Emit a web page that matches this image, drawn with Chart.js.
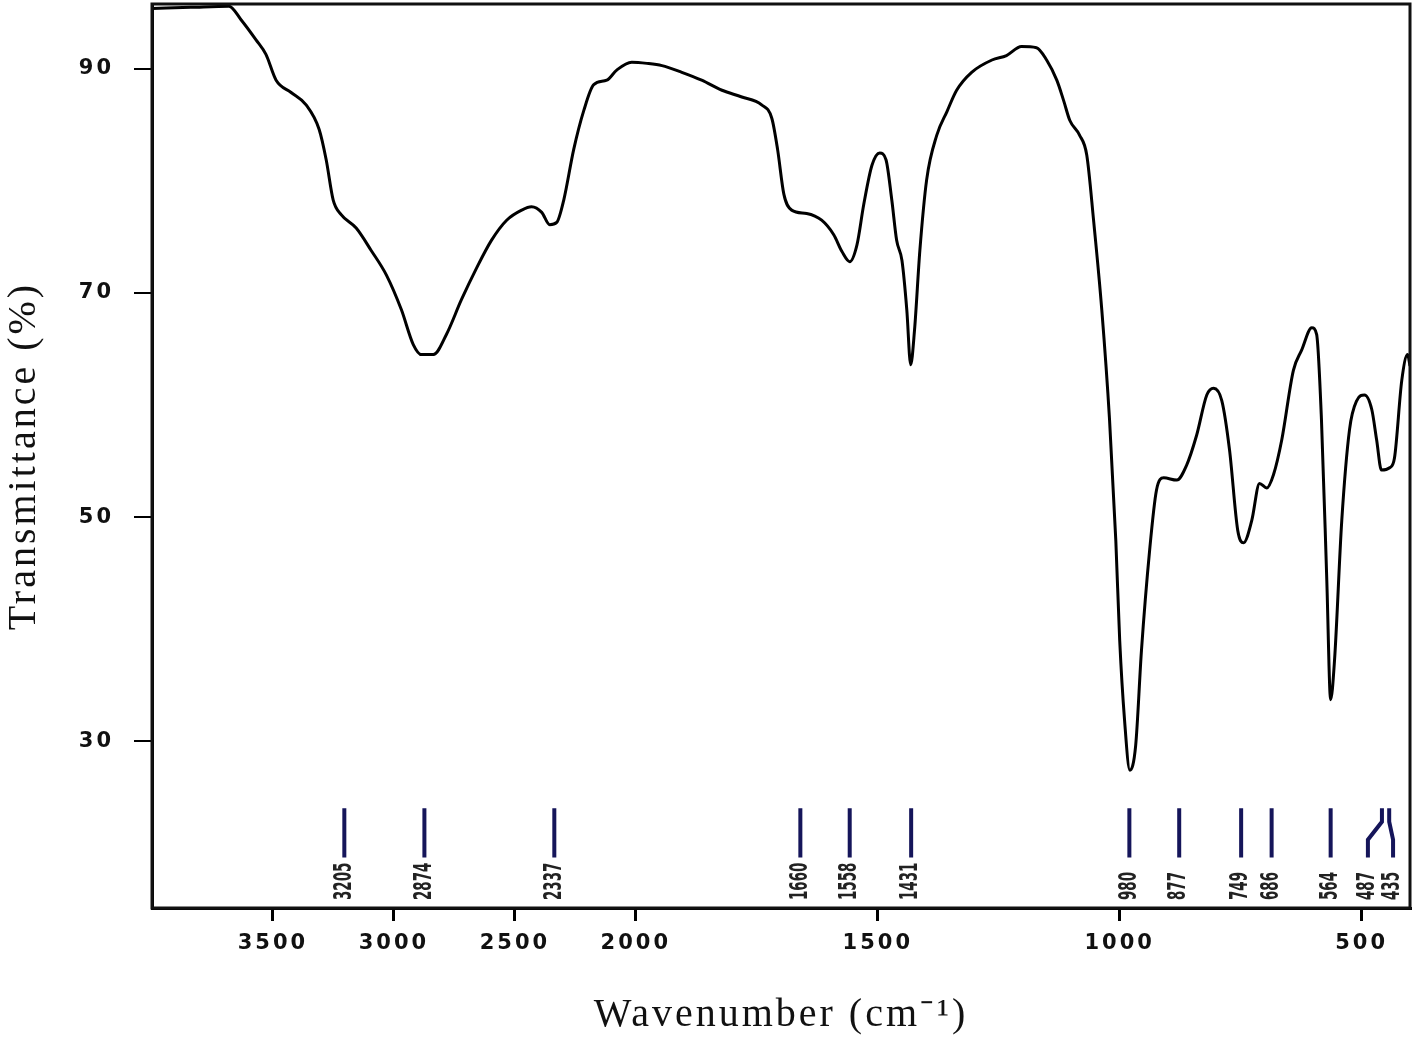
<!DOCTYPE html>
<html>
<head>
<meta charset="utf-8">
<script src="https://cdn.jsdelivr.net/npm/chart.js@4.4.1/dist/chart.umd.min.js"></script>
<style>
html,body{margin:0;padding:0;background:#fff;}
#wrap{position:relative;width:1416px;height:1043px;}
</style>
</head>
<body>
<div id="wrap"><canvas id="c"></canvas></div>
<script>
// ---- Data ----
const WAVENUMBER = [3998,3839,3682,3632,3570,3529,3487,3425,3363,3309,3280,3251,3218,3156,3094,3031,2969,2920,2886,2837,2783,2721,2659,2597,2534,2472,2431,2389,2356,2327,2298,2257,2215,2174,2120,2079,2017,1977,1946,1905,1864,1822,1781,1740,1719,1707,1694,1678,1647,1616,1591,1574,1558,1543,1529,1512,1496,1483,1471,1461,1450,1440,1432,1424,1413,1399,1378,1357,1337,1306,1264,1234,1203,1172,1151,1130,1116,1103,1083,1068,1054,1037,1021,1008,1000,990,979,967,955,938,924,909,882,862,841,820,806,789,773,756,744,727,711,696,682,665,641,624,603,593,583,572,564,556,541,525,510,494,479,469,459,442,432,417,405,400];
const TRANSMITTANCE = [95.4,95.5,95.6,94.4,92.6,91.3,89.0,87.9,86.8,84.6,81.9,78.3,77.0,75.8,73.8,71.6,68.5,65.4,64.5,64.5,66.3,69.4,72.2,74.7,76.5,77.4,77.7,77.2,76.1,76.3,78.3,82.8,86.3,88.6,89.0,89.9,90.6,90.5,90.3,89.7,89.0,88.1,87.5,86.8,85.6,82.8,78.8,77.4,77.1,76.5,75.2,73.7,72.8,74.3,77.9,81.4,82.5,81.9,78.3,74.7,72.9,68.5,63.6,66.7,73.8,80.1,84.1,86.2,88.1,89.7,90.8,91.2,92.0,91.9,90.8,89.0,87.2,85.4,84.1,82.3,76.5,68.5,58.7,47.9,39.0,31.9,27.4,29.6,38.1,47.1,52.4,53.5,53.3,54.6,57.3,60.9,61.5,60.4,56.0,48.8,47.7,49.7,53.0,52.6,53.8,56.9,63.1,64.9,66.9,66.3,58.7,44.4,33.7,37.2,49.7,57.8,60.4,60.9,59.6,56.9,54.2,54.4,55.3,62.2,64.5,63.5];
const PEAK_WN = [3205,2874,2337,1660,1558,1431,980,877,749,686,564,487,435];
const PEAK_LABELS = ["3205","2874","2337","1660","1558","1431","980","877","749","686","564","487","435"];
const LEADER_TOP = {"487":458, "435":443};   // leader lines joining crowded labels
const X_TICKS = [3500,3000,2500,2000,1500,1000,500];
const Y_TICKS = [30,50,70,90];
const X_MIN = 400, X_MAX = 4000, X_BREAK = 2000;
const Y_MIN = 15.1, Y_MAX = 95.8;
const MARK_TOP = 24.0, MARK_BEND1 = 22.8, MARK_BEND2 = 21.2, MARK_BOTTOM = 19.6;

// ---- Split wavenumber scale (scale halves above 2000 cm-1) ----
class SplitScale extends Chart.LinearScale {
  tf(v){ return v <= X_BREAK ? v : X_BREAK + (v - X_BREAK) / 2; }
  itf(t){ return t <= X_BREAK ? t : X_BREAK + (t - X_BREAK) * 2; }
  buildTicks(){ return X_TICKS.map(v => ({value: v})); }
  getPixelForValue(v){
    const a = this.tf(this.min), b = this.tf(this.max);
    return this.getPixelForDecimal((this.tf(v) - a) / (b - a));
  }
  getValueForPixel(p){
    const a = this.tf(this.min), b = this.tf(this.max);
    return this.itf(a + this.getDecimalForPixel(p) * (b - a));
  }
}
SplitScale.id = 'split';
SplitScale.defaults = Chart.LinearScale.defaults;
Chart.register(SplitScale);

const spectrum = WAVENUMBER.map((w, i) => ({x: w, y: TRANSMITTANCE[i]}));

const markerSets = PEAK_WN.map((w, i) => {
  const lbl = PEAK_LABELS[i];
  let pts;
  if (LEADER_TOP[lbl] !== undefined) {
    const t = LEADER_TOP[lbl];
    pts = [{x:t,y:MARK_TOP},{x:t,y:MARK_BEND1},{x:w,y:MARK_BEND2},{x:w,y:MARK_BOTTOM}];
  } else {
    pts = [{x:w,y:MARK_TOP},{x:w,y:MARK_BOTTOM}];
  }
  return {data: pts, borderColor: '#15155a', borderWidth: 4, pointRadius: 0, tension: 0, fill: false, borderCapStyle: 'butt'};
});

const spacingPlugin = {
  id: 'spacing',
  beforeLayout(chart){ chart.ctx.letterSpacing = '3px'; },
  beforeDraw(chart){ chart.ctx.letterSpacing = '3px'; }
};

const framePlugin = {
  id: 'frame',
  afterDraw(chart){
    const {ctx, chartArea: a} = chart;
    ctx.save();
    ctx.strokeStyle = '#111';
    ctx.lineWidth = 3;
    ctx.strokeRect(a.left, a.top, a.right - a.left, a.bottom - a.top);
    ctx.restore();
  }
};

const peakLabelPlugin = {
  id: 'peakLabels',
  afterDatasetsDraw(chart){
    const {ctx, chartArea: a} = chart;
    const xs = chart.scales.x;
    ctx.save();
    ctx.letterSpacing = '0px';
    ctx.fillStyle = '#222';
    ctx.font = 'bold 24px "DejaVu Sans"';
    ctx.textAlign = 'left';
    ctx.textBaseline = 'middle';
    PEAK_WN.forEach((w, i) => {
      const px = xs.getPixelForValue(w);
      ctx.save();
      ctx.translate(px, a.bottom - 8);
      ctx.rotate(-Math.PI / 2);
      ctx.scale(0.56, 1);
      ctx.fillText(PEAK_LABELS[i], 0, 0);
      ctx.restore();
    });
    ctx.restore();
  }
};

new Chart(document.getElementById('c'), {
  type: 'line',
  data: {
    datasets: [{
      data: spectrum,
      borderColor: '#000',
      borderWidth: 3,
      pointRadius: 0,
      cubicInterpolationMode: 'monotone',
      fill: false
    }].concat(markerSets)
  },
  options: {
    responsive: true,
    maintainAspectRatio: false,
    animation: false,
    events: [],
    layout: {padding: {top: 4, right: 6, left: 0, bottom: 0}},
    plugins: {legend: {display: false}, tooltip: {enabled: false}},
    scales: {
      x: {
        type: 'split',
        min: X_MIN, max: X_MAX,
        reverse: true,
        afterFit(s){ s.height = 135; s.paddingLeft = 0; s.paddingRight = 0; },
        grid: {drawOnChartArea: false, drawTicks: true, tickLength: 13, color: '#000', lineWidth: 3},
        border: {display: true, color: '#000', width: 3},
        ticks: {
          autoSkip: false, maxRotation: 0, padding: 10, color: '#111',
          font: {family: 'DejaVu Sans', weight: 'bold', size: 21},
          callback: v => String(v)
        },
        title: {display: true, text: 'Wavenumber (cm\u207B\u00B9)', color: '#111',
          font: {family: 'Liberation Serif', size: 40, weight: 'normal'}, padding: {top: 0, bottom: 4}}
      },
      y: {
        min: Y_MIN, max: Y_MAX,
        afterFit(s){ s.width = 152; s.paddingTop = 0; s.paddingBottom = 0; },
        afterBuildTicks(s){ s.ticks = Y_TICKS.map(v => ({value: v})); },
        grid: {drawOnChartArea: false, drawTicks: true, tickLength: 18, color: '#000', lineWidth: 2},
        border: {display: true, color: '#000', width: 3},
        ticks: {
          padding: 20, color: '#111',
          font: {family: 'DejaVu Sans', weight: 'bold', size: 21},
          callback: v => String(v)
        },
        title: {display: true, text: 'Transmittance (%)', color: '#111',
          font: {family: 'Liberation Serif', size: 40, weight: 'normal'}, padding: {top: 0, bottom: 0}}
      }
    }
  },
  plugins: [spacingPlugin, framePlugin, peakLabelPlugin]
});
</script>
</body>
</html>
